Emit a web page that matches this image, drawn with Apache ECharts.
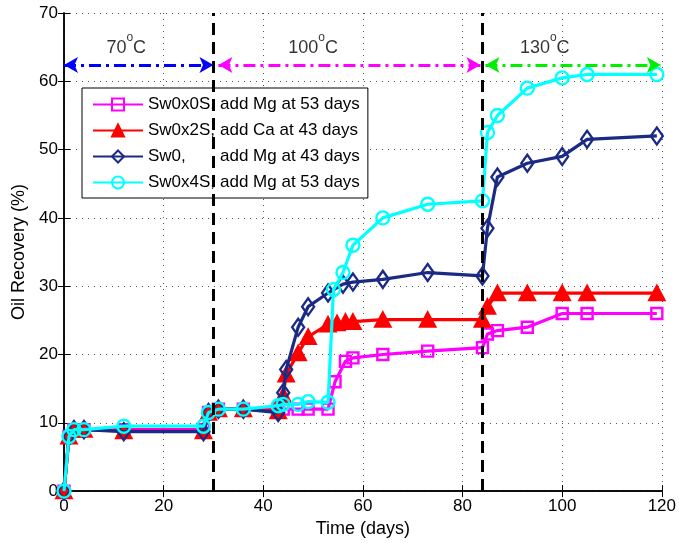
<!DOCTYPE html>
<html>
<head>
<meta charset="utf-8">
<script src="https://cdn.jsdelivr.net/npm/echarts@6/dist/echarts.min.js"></script>
<style>html,body{margin:0;padding:0;background:#fff}#c{width:679px;height:543px}</style>
</head>
<body>
<div id="c"></div>
<script>
// ---- data ----
var xTicks = [0, 20, 40, 60, 80, 100, 120];
var yTicks = [0, 10, 20, 30, 40, 50, 60, 70];
var seriesPrefix = ['Sw0x0S,', 'Sw0x2S,', 'Sw0,', 'Sw0x4S,'];
var seriesNote = ['add Mg at 53 days', 'add Ca at 43 days', 'add Mg at 43 days', 'add Mg at 53 days'];

var daysMg53 = [0, 1, 2, 4, 12, 28, 29, 31, 36, 43, 44, 47, 49, 53, 54.4, 56.5, 58, 64, 73, 84, 85, 87, 93, 100, 105, 119];
var recMg53 = [0, 8, 9, 9, 9, 9, 11.5, 12, 12, 12, 12, 12, 12, 12, 16, 19, 19.5, 20, 20.5, 21, 23, 23.5, 24, 26, 26, 26];

var daysCa43 = [0, 1, 2, 4, 12, 28, 29, 31, 36, 43, 44, 44.6, 47, 49, 53, 54.8, 56.5, 58, 64, 73, 84, 85, 87, 93, 100, 105, 119];
var recCa43 = [0, 8, 9, 9, 8.8, 8.8, 11.5, 12, 12, 11.7, 14, 17.1, 20.2, 22.6, 24.4, 24.6, 24.8, 24.8, 25.1, 25.1, 25.1, 27, 29, 29, 29, 29, 29];

var daysSw0 = [0, 1, 2, 4, 12, 28, 29, 31, 36, 43, 44, 44.6, 47, 49, 53, 56, 58, 64, 73, 84, 85, 87, 93, 100, 105, 119];
var recSw0 = [0, 8, 9, 9, 8.7, 8.7, 11.5, 12, 12, 11.5, 14.4, 17.8, 24, 27, 29, 30.3, 30.6, 31, 32, 31.5, 38.5, 46, 48, 49, 51.5, 52];

var daysX4S = [0, 1, 2, 4, 12, 28, 29, 31, 36, 43, 44, 47, 49, 53, 54.1, 56, 58, 64, 73, 84, 85, 87, 93, 100, 105, 119];
var recX4S = [0, 8, 9, 9, 9.5, 9.5, 11.5, 12, 12, 12.5, 12.7, 12.7, 13.1, 13, 29.5, 32, 36, 40, 42, 42.5, 52.5, 55, 59, 60.5, 61, 61];

var phaseStart = [0, 31, 84.6];
var phaseEnd = [30, 83.6, 119.8];
var phaseLabelX = [12.5, 50, 96.5];
var phaseLabels = ['70', '100', '130'];
var arrowLevel = 62.4;
var labelLevel = 65.4;
var boundaries = [30, 84];

function pairs(xs, ys) { return xs.map(function (x, i) { return [x, ys[i]]; }); }

var FONT = 'Liberation Sans, Arial, sans-serif';
var colors = ['#FF00FF', '#FF0000', '#1B2A84', '#00FFFF'];
var symbols = ['rect', 'triangle', 'diamond', 'circle'];
var symSizes = [[11, 11], [15, 14], [12, 17], [13, 13]];
var fills = ['rgba(0,0,0,0)', '#FF0000', 'rgba(0,0,0,0)', 'rgba(0,0,0,0)'];
var dataSets = [pairs(daysMg53, recMg53), pairs(daysCa43, recCa43), pairs(daysSw0, recSw0), pairs(daysX4S, recX4S)];
var names = seriesPrefix.map(function (p, i) { return p + ' ' + seriesNote[i]; });

var series = dataSets.map(function (d, i) {
  return {
    name: names[i], type: 'line', data: d, z: 3 + i * 0.1,
    symbol: symbols[i], symbolSize: symSizes[i], showAllSymbol: true,
    lineStyle: { color: colors[i], width: 3.2 },
    itemStyle: { color: fills[i], borderColor: colors[i], borderWidth: 2.4 },
    emphasis: { disabled: true }, animation: false
  };
});

// vertical boundaries (above legend)
series.push({
  type: 'line', data: [], z: 10, silent: true, animation: false,
  markLine: {
    silent: true, symbol: ['none', 'none'], label: { show: false }, animation: false,
    lineStyle: { color: '#000', width: 3, type: [12, 7] },
    data: boundaries.map(function (b) { return [{ coord: [b, 0] }, { coord: [b, 70] }]; })
  }
});

// phase arrows
var arrowColors = ['#0000FF', '#FF00FF', '#00EE00'];
series.push({
  type: 'line', data: [], z: 6, silent: true, animation: false,
  markLine: {
    silent: true, symbol: ['arrow', 'arrow'], symbolSize: [12, 14], label: { show: false }, animation: false,
    data: phaseStart.map(function (s, i) {
      return [{ coord: [s, arrowLevel], lineStyle: { color: arrowColors[i], width: 3, type: [12, 5, 3, 5] }, itemStyle: { color: arrowColors[i] } },
              { coord: [phaseEnd[i], arrowLevel] }];
    })
  }
});

// phase labels
series.push({
  type: 'scatter', z: 6, silent: true, animation: false,
  symbol: 'circle', symbolSize: 1, itemStyle: { color: 'rgba(0,0,0,0)' },
  data: phaseLabelX.map(function (x, i) { return { value: [x, labelLevel], name: phaseLabels[i] }; }),
  label: {
    show: true, position: 'inside', color: '#000', fontFamily: FONT, fontSize: 18,
    formatter: function (p) { return '{n|' + p.name + '}{s|o}{n|C}'; },
    rich: {
      n: { fontFamily: FONT, fontSize: 18, lineHeight: 26, verticalAlign: 'bottom', color: '#000' },
      s: { fontFamily: FONT, fontSize: 12, lineHeight: 12, verticalAlign: 'top', color: '#000' }
    }
  }
});

var gridLine = { show: true, lineStyle: { color: '#555', width: 1, type: [1, 5] } };

var option = {
  backgroundColor: '#fff',
  animation: false,
  grid: { left: 64, right: 17, top: 13, bottom: 51 },
  xAxis: [{
    type: 'value', min: 0, max: 120, interval: 20,
    name: 'Time (days)', nameLocation: 'middle', nameGap: 28,
    nameTextStyle: { fontFamily: FONT, fontSize: 18, color: '#000' },
    axisLine: { lineStyle: { color: '#000', width: 1.5 } },
    axisTick: { inside: true, length: 6, lineStyle: { color: '#000' } },
    axisLabel: { fontFamily: FONT, fontSize: 17, color: '#000', margin: 7 },
    splitLine: gridLine
  }, {
    type: 'value', min: 0, max: 120, interval: 20, position: 'top',
    axisLine: { show: true, lineStyle: { color: '#000', width: 1.5 } },
    axisTick: { inside: true, length: 6, lineStyle: { color: '#000' } },
    axisLabel: { show: false }, splitLine: { show: false }
  }],
  yAxis: [{
    type: 'value', min: 0, max: 70, interval: 10,
    name: 'Oil Recovery (%)', nameLocation: 'middle', nameGap: 33, nameRotate: 90,
    nameTextStyle: { fontFamily: FONT, fontSize: 18, color: '#000' },
    axisLine: { show: true, lineStyle: { color: '#000', width: 1.5 } },
    axisTick: { show: true, inside: true, length: 6, lineStyle: { color: '#000' } },
    axisLabel: { fontFamily: FONT, fontSize: 17, color: '#000', margin: 6 },
    splitLine: gridLine
  }, {
    type: 'value', min: 0, max: 70, interval: 10, position: 'right',
    axisLine: { show: true, lineStyle: { color: '#000', width: 1.5 } },
    axisTick: { show: true, inside: true, length: 6, lineStyle: { color: '#000' } },
    axisLabel: { show: false }, splitLine: { show: false }
  }],
  legend: {
    orient: 'vertical', left: 82, top: 88, z: 4,
    backgroundColor: '#fff', borderColor: '#000', borderWidth: 1,
    padding: [8, 8, 7, 10], itemGap: 9, itemWidth: 50, itemHeight: 15,
    data: names,
    textStyle: {
      fontFamily: FONT, fontSize: 17, color: '#000',
      rich: {
        a: { width: 72, fontFamily: FONT, fontSize: 17, color: '#000' },
        b: { fontFamily: FONT, fontSize: 17, color: '#000' }
      }
    },
    formatter: function (n) {
      var i = names.indexOf(n);
      return '{a|' + seriesPrefix[i] + '}{b|' + seriesNote[i] + '}';
    }
  },
  series: series
};

var chart = echarts.init(document.getElementById('c'), null, { renderer: 'canvas' });
chart.setOption(option);
</script>
</body>
</html>
